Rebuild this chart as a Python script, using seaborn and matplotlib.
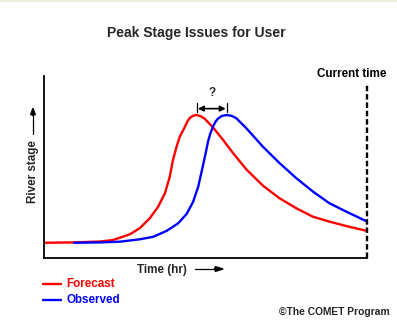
import matplotlib
matplotlib.use("Agg")
import matplotlib.pyplot as plt
from matplotlib.lines import Line2D
from matplotlib.patches import Rectangle, FancyArrow
import pandas as pd
import seaborn as sns

# Hydrograph values (time in % of the window, stage in % of the axis height)
forecast_time = [0, 9.1, 17.4, 21.4, 23.6, 26.7, 29.7, 32.8, 35.4, 37.5, 39.0,
                 40.0, 41.1, 42.1, 43.7, 44.5, 45.2, 46.2, 47.3, 48.5, 49.8,
                 52.4, 55.5, 58.6, 62.7, 67.8, 73.0, 78.2, 83.3, 88.4, 93.6, 100]
forecast_stage = [8.2, 8.4, 8.9, 9.7, 11.0, 12.9, 16.2, 21.6, 28.0, 35.4, 44.5,
                  53.7, 61.0, 66.5, 72.0, 75.0, 76.8, 78.0, 78.4, 77.8, 76.4,
                  71.5, 64.7, 57.4, 48.5, 39.6, 32.6, 27.1, 22.5, 19.8, 17.4, 14.7]

observed_time = [9.1, 17.4, 23.6, 29.7, 33.9, 38.0, 41.6, 44.2, 46.2, 47.8,
                 49.2, 50.1, 50.8, 51.5, 52.4, 53.2, 53.9, 55.1, 56.7, 58.2,
                 59.6, 62.7, 67.8, 73.0, 78.2, 83.3, 88.4, 93.6, 100]
observed_stage = [8.2, 8.4, 8.8, 10.1, 11.5, 14.7, 18.9, 24.0, 30.6, 39.0,
                  50.1, 57.4, 63.5, 68.0, 72.2, 74.8, 76.4, 77.9, 78.4, 77.9,
                  76.6, 71.1, 61.0, 51.9, 43.6, 36.3, 29.9, 25.3, 19.9]

series_names = ["Forecast", "Observed"]
series_colors = ["#FF0000", "#0000FF"]
forecast_peak_time = 47.3
observed_peak_time = 56.7

sns.set_style("white")
plt.rcParams["font.family"] = ["Liberation Sans", "DejaVu Sans"]
plt.rcParams["font.weight"] = "bold"
plt.rcParams["lines.scale_dashes"] = False

df = pd.concat([
    pd.DataFrame({"time": forecast_time, "stage": forecast_stage, "series": series_names[0]}),
    pd.DataFrame({"time": observed_time, "stage": observed_stage, "series": series_names[1]}),
], ignore_index=True)

fig = plt.figure(figsize=(3.97, 3.21), dpi=100)
fig.patch.set_facecolor("white")
fig.patches.append(Rectangle((0, 0.994), 1, 0.006, transform=fig.transFigure,
                             facecolor="#EFEBDA", edgecolor="none"))

ax = fig.add_axes([0.110, 0.1972, 0.8144, 0.567])
palette = dict(zip(series_names, series_colors))
sns.lineplot(data=df, x="time", y="stage", hue="series", hue_order=series_names,
             palette=palette, sort=False, estimator=None, lw=1.7, legend=False, ax=ax)
for line in ax.get_lines():
    line.set_solid_joinstyle("round")
    line.set_solid_capstyle("butt")

ax.set_xlim(0, 100)
ax.set_ylim(0, 100)
ax.set_xticks([])
ax.set_yticks([])
ax.set_xlabel("")
ax.set_ylabel("")
for side in ("top", "right"):
    ax.spines[side].set_visible(False)
for side in ("left", "bottom"):
    ax.spines[side].set_color("black")
    ax.spines[side].set_linewidth(1.3)

# "current time" marker at the right edge
ax.plot([100, 100], [0, 96], color="black", lw=1.7, ls=(0, (4.0, 2.0)), clip_on=False)
fig.text(0.887, 0.769, "Current time", ha="center", va="center", fontsize=8.4,
         fontweight="bold", color="black")

# timing difference between the two peaks
for t in (forecast_peak_time, observed_peak_time):
    ax.plot([t, t], [80.0, 84.8], color="black", lw=0.9, clip_on=False)
ax.annotate("", xy=(forecast_peak_time + 0.4, 81.9), xytext=(observed_peak_time - 0.4, 81.9),
            arrowprops=dict(arrowstyle="<|-|>", color="black", lw=1.2,
                            mutation_scale=8, shrinkA=0, shrinkB=0),
            annotation_clip=False)
ax.text((forecast_peak_time + observed_peak_time) / 2, 90.5, "?", ha="center",
        va="center", fontsize=8.4, fontweight="bold")

# title and axis captions
fig.text(0.4955, 0.897, "Peak Stage Issues for User", ha="center", va="center",
         fontsize=10, fontweight="bold")
fig.text(0.083, 1 - 171.5 / 321, "River stage", rotation=90, ha="center",
         va="center", fontsize=8.4, fontweight="bold")
fig.add_artist(Line2D([0.083, 0.083], [1 - 134 / 321, 1 - 114 / 321],
                      transform=fig.transFigure, color="black", lw=0.9))
fig.patches.append(FancyArrow(
    0.083, 1 - 116 / 321, 0, 0.004, width=0, head_width=0.012, head_length=0.02,
    transform=fig.transFigure, color="black", length_includes_head=False))

fig.text(162 / 397, 1 - 269.5 / 321, "Time (hr)", ha="center", va="center",
         fontsize=8.4, fontweight="bold")
fig.add_artist(Line2D([195 / 397, 216 / 397], [1 - 269 / 321, 1 - 269 / 321],
                      transform=fig.transFigure, color="black", lw=0.9))
fig.patches.append(FancyArrow(
    214 / 397, 1 - 269 / 321, 0.003, 0, width=0, head_width=0.015, head_length=0.02,
    transform=fig.transFigure, color="black"))

# legend
for i, (name, color) in enumerate(zip(series_names, series_colors)):
    y = 1 - (284 + 16 * i) / 321
    fig.add_artist(Line2D([43 / 397, 61 / 397], [y, y], transform=fig.transFigure,
                          color=color, lw=1.7))
    fig.text(66.5 / 397, y, name, ha="left", va="center", fontsize=8.4,
             fontweight="bold", color=color)

fig.text(390 / 397, 1 - 312 / 321, "\u00a9The COMET Program", ha="right", va="center",
         fontsize=7.4, fontweight="bold")

fig.savefig("out.png", dpi=100, facecolor="white")
